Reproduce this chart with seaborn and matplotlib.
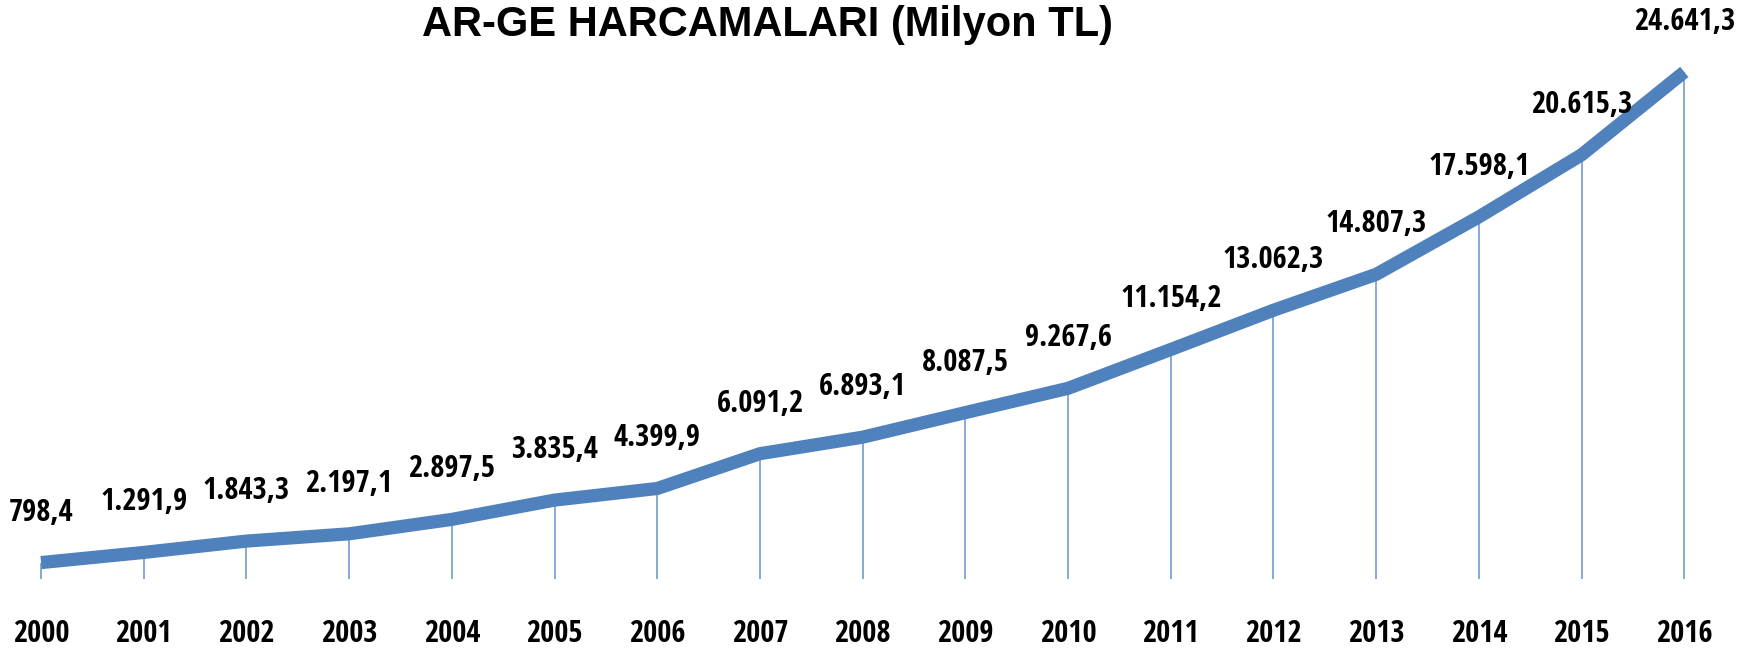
import matplotlib
matplotlib.use("Agg")
import matplotlib.pyplot as plt
import seaborn as sns
import pandas as pd

# AR-GE spending, million TL
years = [2000, 2001, 2002, 2003, 2004, 2005, 2006, 2007, 2008,
         2009, 2010, 2011, 2012, 2013, 2014, 2015, 2016]
spending = [798.4, 1291.9, 1843.3, 2197.1, 2897.5, 3835.4, 4399.9, 6091.2, 6893.1,
            8087.5, 9267.6, 11154.2, 13062.3, 14807.3, 17598.1, 20615.3, 24641.3]

df = pd.DataFrame({"year": years, "spending": spending})


def tr_format(v):
    # Turkish number format: 24.641,3
    s = f"{v:,.1f}"
    return s.replace(",", "X").replace(".", ",").replace("X", ".")


sns.set_theme(style="white")
label_font = ["Open Sans Condensed", "PT Sans Narrow", "DejaVu Sans"]

fig = plt.figure(figsize=(17.57, 6.53), dpi=100)
ax = fig.add_axes([0.0, 0.1133, 0.982, 0.8193])

# thin drop lines from the baseline to each point
ax.vlines(df["year"], 0, df["spending"], color="#7FA3D3", linewidth=1.3, zorder=1)

sns.lineplot(data=df, x="year", y="spending", ax=ax, color="#4F81BD",
             linewidth=9.5, solid_capstyle="butt", clip_on=False, zorder=3)

for x, y in zip(years, spending):
    ax.annotate(tr_format(y), (x, y), xytext=(0, 50), textcoords="offset pixels",
                ha="center", va="center", fontsize=22, fontweight="bold",
                family=label_font, color="black", annotation_clip=False)

ax.set_xlim(1999.6, 2016.4)
ax.set_ylim(0, 26000)
ax.set_xticks(years)
ax.set_xticklabels([str(y) for y in years], fontsize=22, fontweight="bold",
                   family=label_font, color="black")
ax.tick_params(axis="x", length=0, pad=29)
ax.set_yticks([])
ax.set_xlabel("")
ax.set_ylabel("")
sns.despine(ax=ax, left=True, bottom=True, top=True, right=True)

fig.text(0.437, 0.962, "AR-GE HARCAMALARI (Milyon TL)", ha="center", va="center",
         fontsize=30, fontweight="bold", color="black",
         family=["Liberation Sans", "DejaVu Sans"])

fig.savefig("out.png", dpi=100)
